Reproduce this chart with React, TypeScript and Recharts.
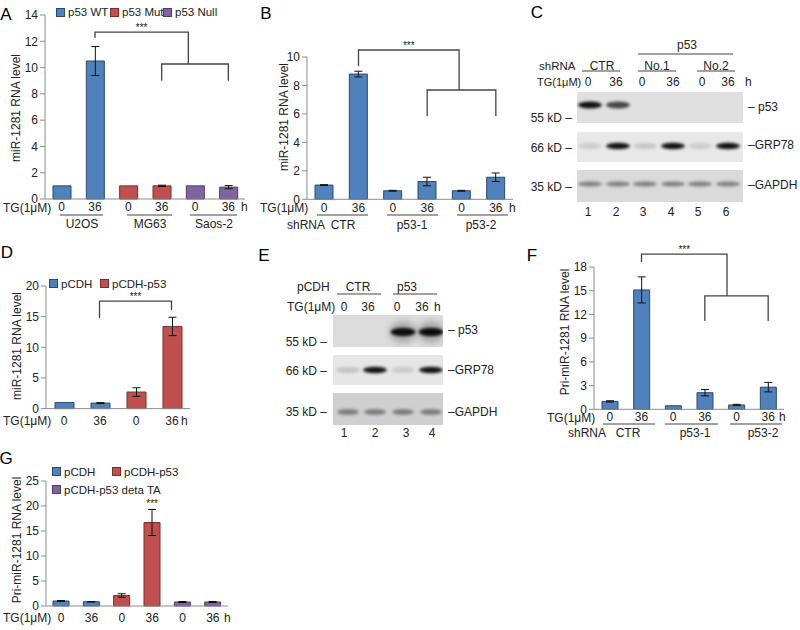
import { BarChart, Bar, XAxis, YAxis, ErrorBar, Cell, Legend } from 'recharts'

const BLUE = '#4f81bd'
const RED = '#c0504d'
const PURPLE = '#8064a2'
const EDGE: Record<string, string> = { [BLUE]: '#2b4a70', [RED]: '#7a2e2c', [PURPLE]: '#4e3b68' }
const FONT = 'Arial, "Liberation Sans", Helvetica, sans-serif'
const INK = '#222'
const AXIS = '#8c8c8c'

// panel A – miR-1281 in three osteosarcoma lines
const aTime = ['0', '36', '0', '36', '0', '36']
const aValues = [1.0, 10.5, 1.0, 1.0, 1.0, 0.9]
const aErrors = [0, 1.1, 0, 0.05, 0, 0.12]
const aColors = [BLUE, BLUE, RED, RED, PURPLE, PURPLE]
const aTicks = [0, 2, 4, 6, 8, 10, 12, 14]
const aSeries = ['p53 WT', 'p53 Mut', 'p53 Null']
const aGroups = ['U2OS', 'MG63', 'Saos-2']

// panel B – shRNA knockdown
const bTime = ['0', '36', '0', '36', '0', '36']
const bValues = [1.0, 8.8, 0.6, 1.25, 0.6, 1.55]
const bErrors = [0.03, 0.2, 0.03, 0.3, 0.03, 0.3]
const bTicks = [0, 2, 4, 6, 8, 10]
const shGroups = ['CTR', 'p53-1', 'p53-2']

// panel D – overexpression
const dTime = ['0', '36', '0', '36']
const dValues = [1.0, 0.9, 2.7, 13.4]
const dErrors = [0, 0.08, 0.7, 1.5]
const dColors = [BLUE, BLUE, RED, RED]
const dTicks = [0, 5, 10, 15, 20]
const dSeries = ['pCDH', 'pCDH-p53']

// panel F – pri-miR-1281 after knockdown
const fTime = ['0', '36', '0', '36', '0', '36']
const fValues = [1.0, 15.1, 0.45, 2.1, 0.55, 2.8]
const fErrors = [0.08, 1.65, 0, 0.4, 0.08, 0.6]
const fTicks = [0, 3, 6, 9, 12, 15, 18]

// panel G – pri-miR-1281 with deta TA mutant
const gTime = ['0', '36', '0', '36', '0', '36']
const gValues = [1.0, 0.85, 2.1, 16.7, 0.8, 0.8]
const gErrors = [0.1, 0.05, 0.35, 2.6, 0.1, 0.1]
const gColors = [BLUE, BLUE, RED, RED, PURPLE, PURPLE]
const gTicks = [0, 5, 10, 15, 20, 25]
const gSeries = ['pCDH', 'pCDH-p53', 'pCDH-p53 deta TA']

// western blots: band strength per lane
const cLanes = ['1', '2', '3', '4', '5', '6']
const cP53 = [1, 0.75, 0, 0, 0, 0]
const cGrp78 = [0.12, 1, 0.15, 1, 0.12, 1]
const cGapdh = [0.45, 0.45, 0.45, 0.45, 0.45, 0.45]
const eLanes = ['1', '2', '3', '4']
const eP53 = [0, 0, 1, 1]
const eGrp78 = [0.15, 1, 0.12, 1]
const eGapdh = [0.45, 0.45, 0.45, 0.45]

type Box = { x: number; y: number; w: number; h: number; n: number; max: number }
const boxA: Box = { x: 45, y: 15, w: 200, h: 184, n: 6, max: 14 }
const boxB: Box = { x: 307, y: 56.7, w: 206, h: 142.3, n: 6, max: 10 }
const boxD: Box = { x: 45.5, y: 285.7, w: 144, h: 122.6, n: 4, max: 20 }
const boxF: Box = { x: 594, y: 266.7, w: 190, h: 142.3, n: 6, max: 18 }
const boxG: Box = { x: 46, y: 480.7, w: 182, h: 125, n: 6, max: 25 }

const px = (b: Box, i: number) => b.x + ((i + 0.5) * b.w) / b.n
const py = (b: Box, v: number) => b.y + b.h - (v / b.max) * b.h

const YW = 40
const MT = 10
const MR = 10
const XH = 24

function LegendBox({ names, colors, spots }: any) {
  return (
    <div style={{ position: 'relative', width: 220, height: 40, fontSize: 11.5, color: INK, fontFamily: FONT }}>
      {names.map((n: string, i: number) => (
        <div key={n} style={{ position: 'absolute', left: spots[i][0], top: spots[i][1], display: 'flex', alignItems: 'center', whiteSpace: 'nowrap', lineHeight: '14px' }}>
          <span style={{ display: 'inline-block', width: 7, height: 7, background: colors[i], border: `1px solid ${EDGE[colors[i]]}`, marginRight: 3 }} />
          {n}
        </div>
      ))}
    </div>
  )
}

function QpcrChart({ box, labels, values, errors, colors, ticks, barSize, tickGap, legend }: any) {
  const data = labels.map((t: string, i: number) => ({ id: 'c' + i, t, value: values[i], err: errors[i] || undefined }))
  return (
    <div style={{ position: 'absolute', left: box.x - YW, top: box.y - MT }}>
      <BarChart width={box.w + YW + MR} height={box.h + MT + XH} data={data} margin={{ top: MT, right: MR, bottom: 0, left: 0 }}>
        <XAxis
          dataKey="id"
          interval={0}
          tickFormatter={(v: string) => labels[Number(v.slice(1))]}
          tickLine={false}
          tickSize={0}
          tickMargin={tickGap}
          height={XH}
          axisLine={{ stroke: AXIS }}
          tick={{ fontSize: 12, fill: INK }}
        />
        <YAxis
          width={YW}
          domain={[0, box.max]}
          ticks={ticks}
          interval={0}
          tickSize={5}
          tickMargin={2}
          axisLine={{ stroke: AXIS }}
          tickLine={{ stroke: AXIS }}
          tick={{ fontSize: 12, fill: INK }}
        />
        <Bar dataKey="value" barSize={barSize} isAnimationActive={false}>
          {data.map((d: any, i: number) => (
            <Cell key={d.id} fill={colors[i]} stroke={EDGE[colors[i]]} strokeWidth={1} />
          ))}
          <ErrorBar dataKey="err" direction="y" width={4} stroke="#111" strokeWidth={1} />
        </Bar>
        {legend}
      </BarChart>
    </div>
  )
}

function T({ x, y, s = 12, a = 'start', rot, fill = INK, children }: any) {
  return (
    <text x={x} y={y + s * 0.35} fontSize={s} textAnchor={a} fill={fill} transform={rot ? `rotate(-90 ${x} ${y})` : undefined}>
      {children}
    </text>
  )
}

function L({ x1, x2, y }: any) {
  return <line x1={x1} x2={x2} y1={y} y2={y} stroke="#444" strokeWidth={1.2} />
}

// bracket drawn through the panel's own scale: points as [category index, value]
function Bracket({ box, pts }: { box: Box; pts: number[][] }) {
  const d = pts.map((p, i) => `${i ? 'L' : 'M'}${px(box, p[0])},${py(box, p[1])}`).join(' ')
  return <path d={d} fill="none" stroke="#444" strokeWidth={1.3} />
}

function Blot({ id, x, w, y, h, bg, lanes, bandY, bands, rx, ry, smear }: any) {
  return (
    <g>
      <clipPath id={id}>
        <rect x={x} y={y} width={w} height={h} />
      </clipPath>
      <rect x={x} y={y} width={w} height={h} fill={bg} />
      <g clipPath={`url(#${id})`}>
        {bands.map((v: number, i: number) =>
          v > 0 ? (
            <g key={i}>
              {smear ? <ellipse cx={lanes[i]} cy={bandY} rx={rx + 1} ry={ry * 2.6} fill="#000" opacity={v * 0.22} filter="url(#soft)" /> : null}
              <ellipse cx={lanes[i]} cy={bandY} rx={rx} ry={ry} fill="#000" opacity={v * 0.92} filter="url(#blur)" />
            </g>
          ) : null,
        )}
      </g>
    </g>
  )
}

const cX = [590, 618, 645, 673, 700, 728]
const eX = [348, 375, 403, 431]

export default function App() {
  return (
    <div style={{ position: 'absolute', left: 0, top: 0, width: 800, height: 630, background: '#fff', fontFamily: FONT, overflow: 'hidden' }}>
      <QpcrChart
        box={boxA}
        labels={aTime}
        values={aValues}
        errors={aErrors}
        colors={aColors}
        ticks={aTicks}
        barSize={18}
        tickGap={3}
        legend={
          <Legend
            layout="vertical"
            align="center"
            verticalAlign="middle"
            wrapperStyle={{ left: 51, top: 0, width: 220 }}
            content={() => <LegendBox names={aSeries} colors={[BLUE, RED, PURPLE]} spots={[[0, 0], [54, 0], [107, 0]]} />}
          />
        }
      />
      <QpcrChart box={boxB} labels={bTime} values={bValues} errors={bErrors} colors={bTime.map(() => BLUE)} ticks={bTicks} barSize={18} tickGap={4} />
      <QpcrChart
        box={boxD}
        labels={dTime}
        values={dValues}
        errors={dErrors}
        colors={dColors}
        ticks={dTicks}
        barSize={19}
        tickGap={8}
        legend={
          <Legend
            layout="vertical"
            align="center"
            verticalAlign="middle"
            wrapperStyle={{ left: 43.5, top: 1, width: 220 }}
            content={() => <LegendBox names={dSeries} colors={[BLUE, RED]} spots={[[0, 0], [51, 0]]} />}
          />
        }
      />
      <QpcrChart box={boxF} labels={fTime} values={fValues} errors={fErrors} colors={fTime.map(() => BLUE)} ticks={fTicks} barSize={16} tickGap={3} />
      <QpcrChart
        box={boxG}
        labels={gTime}
        values={gValues}
        errors={gErrors}
        colors={gColors}
        ticks={gTicks}
        barSize={16}
        tickGap={7}
        legend={
          <Legend
            layout="vertical"
            align="center"
            verticalAlign="middle"
            wrapperStyle={{ left: 46, top: -6, width: 220 }}
            content={() => <LegendBox names={gSeries} colors={[BLUE, RED, PURPLE]} spots={[[0, 0], [60, 0], [0, 18]]} />}
          />
        }
      />

      <svg width={800} height={630} style={{ position: 'absolute', left: 0, top: 0, pointerEvents: 'none' }} fontFamily={FONT}>
        <defs>
          <filter id="blur" x="-50%" y="-100%" width="200%" height="300%">
            <feGaussianBlur stdDeviation="1.6" />
          </filter>
          <filter id="soft" x="-50%" y="-100%" width="200%" height="300%">
            <feGaussianBlur stdDeviation="3" />
          </filter>
        </defs>

        {/* panel letters */}
        <T x={6} y={14} s={17} a="middle" fill="#000">A</T>
        <T x={266} y={13} s={17} a="middle" fill="#000">B</T>
        <T x={537} y={12} s={17} a="middle" fill="#000">C</T>
        <T x={7} y={252} s={17} a="middle" fill="#000">D</T>
        <T x={264} y={255} s={17} a="middle" fill="#000">E</T>
        <T x={532} y={255} s={17} a="middle" fill="#000">F</T>
        <T x={6} y={458} s={17} a="middle" fill="#000">G</T>

        {/* axis titles */}
        <T x={16} y={108} a="middle" rot>miR-1281 RNA level</T>
        <T x={284} y={117} a="middle" rot>miR-1281 RNA level</T>
        <T x={17} y={346} a="middle" rot>miR-1281 RNA level</T>
        <T x={565} y={332} a="middle" rot>Pri-miR-1281 RNA level</T>
        <T x={17} y={540} a="middle" rot>Pri-miR-1281 RNA level</T>

        {/* panel A annotations */}
        <T x={3} y={208}>TG(1μM)</T>
        <T x={241} y={207}>h</T>
        {aGroups.map((g, i) => (
          <g key={g}>
            <L x1={[60, 127, 190][i]} x2={[103, 172, 237][i]} y={215} />
            <T x={[82, 150, 214][i]} y={224} a="middle">{g}</T>
          </g>
        ))}
        <Bracket box={boxA} pts={[[1, 12.25], [1, 12.7], [3.8, 12.7], [3.8, 10.27]]} />
        <Bracket box={boxA} pts={[[3, 9.0], [3, 10.27], [5, 10.27], [5, 9.0]]} />
        <T x={(px(boxA, 1) + px(boxA, 3.8)) / 2} y={py(boxA, 12.7) - 5} s={10} a="middle">***</T>

        {/* panel B annotations */}
        <T x={260} y={208}>TG(1μM)</T>
        <T x={509} y={208}>h</T>
        <T x={287} y={225}>shRNA</T>
        {shGroups.map((g, i) => (
          <g key={g}>
            <L x1={[317, 387, 457][i]} x2={[368, 438, 508][i]} y={215} />
            <T x={[343, 412, 481][i]} y={225} a="middle">{g}</T>
          </g>
        ))}
        <Bracket box={boxB} pts={[[1, 9.35], [1, 10.47], [3.93, 10.47], [3.93, 7.66]]} />
        <Bracket box={boxB} pts={[[3, 5.83], [3, 7.66], [5, 7.66], [5, 5.83]]} />
        <T x={(px(boxB, 1) + px(boxB, 3.93)) / 2} y={py(boxB, 10.47) - 5} s={10} a="middle">***</T>

        {/* panel C western blot */}
        <T x={687} y={45} a="middle">p53</T>
        <L x1={638} x2={733} y={54} />
        <T x={539} y={66} s={11.5}>shRNA</T>
        <T x={602} y={66} a="middle">CTR</T>
        <L x1={582} x2={620} y={71} />
        <T x={657} y={66} a="middle">No.1</T>
        <L x1={638} x2={676} y={71} />
        <T x={716} y={66} a="middle">No.2</T>
        <L x1={697} x2={735} y={71} />
        <T x={537} y={82} s={11}>TG(1μM)</T>
        {['0', '36', '0', '36', '0', '36'].map((t, i) => (
          <T key={i} x={[588, 616, 642, 673, 702, 728][i]} y={82} a="middle">{t}</T>
        ))}
        <T x={745} y={82}>h</T>
        <Blot id="c1" x={577} w={166} y={92} h={31} bg="#e0e0e0" lanes={cX} bandY={105} bands={cP53} rx={12} ry={3.5} />
        <Blot id="c2" x={577} w={166} y={132} h={30} bg="#e8e8e8" lanes={cX} bandY={146} bands={cGrp78} rx={12} ry={3.2} />
        <Blot id="c3" x={577} w={166} y={170} h={32} bg="#dadada" lanes={cX} bandY={184} bands={cGapdh} rx={12} ry={2.6} />
        <T x={572} y={118} a="end">55 kD –</T>
        <T x={572} y={148} a="end">66 kD –</T>
        <T x={572} y={187} a="end">35 kD –</T>
        <T x={748} y={107}>– p53</T>
        <T x={748} y={145}>–GRP78</T>
        <T x={748} y={185}>–GAPDH</T>
        {cLanes.map((n, i) => (
          <T key={n} x={cX[i] - 2} y={212} a="middle">{n}</T>
        ))}

        {/* panel D annotations */}
        <T x={3} y={421}>TG(1μM)</T>
        <T x={181} y={421}>h</T>
        <Bracket box={boxD} pts={[[1, 14.73], [1, 17.5], [3, 17.5], [3, 16.05]]} />
        <T x={(px(boxD, 1) + px(boxD, 3)) / 2} y={py(boxD, 17.5) - 5} s={10} a="middle">***</T>

        {/* panel E western blot */}
        <T x={297} y={287}>pCDH</T>
        <T x={358} y={287} a="middle">CTR</T>
        <L x1={337} x2={381} y={294} />
        <T x={407} y={287} a="middle">p53</T>
        <L x1={393} x2={437} y={294} />
        <T x={287} y={307}>TG(1μM)</T>
        {['0', '36', '0', '36'].map((t, i) => (
          <T key={i} x={[344, 368, 397, 422][i]} y={307} a="middle">{t}</T>
        ))}
        <T x={434} y={307}>h</T>
        <Blot id="e1" x={333} w={110} y={315} h={32} bg="#dcdcdc" lanes={eX} bandY={332} bands={eP53} rx={12.5} ry={4.2} smear />
        <Blot id="e2" x={333} w={110} y={355} h={30} bg="#e6e6e6" lanes={eX} bandY={370} bands={eGrp78} rx={12} ry={3.2} />
        <Blot id="e3" x={333} w={110} y={393} h={32} bg="#cfcfcf" lanes={eX} bandY={412} bands={eGapdh} rx={11} ry={2.8} />
        <T x={327} y={342} a="end">55 kD –</T>
        <T x={327} y={371} a="end">66 kD –</T>
        <T x={327} y={412} a="end">35 kD –</T>
        <T x={448} y={330}>– p53</T>
        <T x={448} y={370}>–GRP78</T>
        <T x={448} y={412}>–GAPDH</T>
        {eLanes.map((n, i) => (
          <T key={n} x={[344, 375, 406, 432][i]} y={433} a="middle">{n}</T>
        ))}

        {/* panel F annotations */}
        <T x={547} y={418}>TG(1μM)</T>
        <T x={779} y={417}>h</T>
        <T x={568} y={433}>shRNA</T>
        {shGroups.map((g, i) => (
          <g key={g}>
            <L x1={[603, 665, 730][i]} x2={[655, 718, 782][i]} y={424} />
            <T x={[628, 695, 763][i]} y={433} a="middle">{g}</T>
          </g>
        ))}
        <Bracket box={boxF} pts={[[1, 18.6], [1, 19.6], [3.7, 19.6], [3.7, 14.3]]} />
        <Bracket box={boxF} pts={[[3, 11.14], [3, 14.3], [5, 14.3], [5, 11.14]]} />
        <T x={(px(boxF, 1) + px(boxF, 3.7)) / 2} y={py(boxF, 19.6) - 5} s={10} a="middle">***</T>

        {/* panel G annotations */}
        <T x={3} y={618}>TG(1μM)</T>
        <T x={224} y={618}>h</T>
        <T x={px(boxG, 3)} y={py(boxG, gValues[3] + gErrors[3]) - 6} s={10} a="middle">***</T>
      </svg>
    </div>
  )
}
